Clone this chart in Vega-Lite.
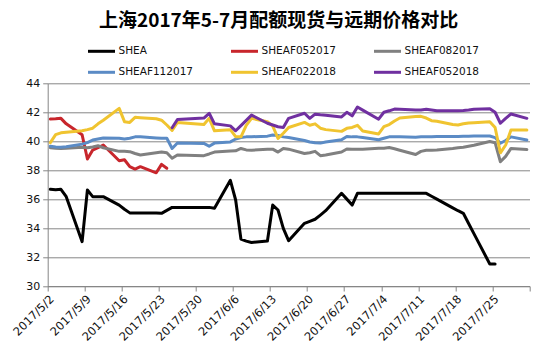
{
  "$schema": "https://vega.github.io/schema/vega-lite/v6.json",
  "width": 481.8,
  "height": 202.7,
  "autosize": "none",
  "padding": {"left": 47.7, "top": 83.3, "right": 23.5, "bottom": 72},
  "background": "white",
  "title": {"text": "上海2017年5-7月配额现货与远期价格对比", "font": "Noto Sans CJK SC", "fontSize": 19, "fontWeight": "bold", "color": "#000000", "anchor": "middle", "dx": -10, "offset": 5},
  "config": {"view": {"stroke": null}},
  "data": {"values": [
    {"s":"SHEA","date":"2017-05-02","v":36.68},{"s":"SHEA","date":"2017-05-03","v":36.65},{"s":"SHEA","date":"2017-05-04","v":36.68},{"s":"SHEA","date":"2017-05-05","v":36.17},{"s":"SHEA","date":"2017-05-08","v":33.06},{"s":"SHEA","date":"2017-05-09","v":36.63},{"s":"SHEA","date":"2017-05-10","v":36.17},{"s":"SHEA","date":"2017-05-11","v":36.17},{"s":"SHEA","date":"2017-05-12","v":36.17},{"s":"SHEA","date":"2017-05-15","v":35.59},{"s":"SHEA","date":"2017-05-16","v":35.3},{"s":"SHEA","date":"2017-05-17","v":35.05},{"s":"SHEA","date":"2017-05-18","v":35.05},{"s":"SHEA","date":"2017-05-19","v":35.05},{"s":"SHEA","date":"2017-05-22","v":35.05},{"s":"SHEA","date":"2017-05-23","v":35.02},{"s":"SHEA","date":"2017-05-24","v":35.22},{"s":"SHEA","date":"2017-05-25","v":35.43},{"s":"SHEA","date":"2017-05-26","v":35.43},{"s":"SHEA","date":"2017-05-31","v":35.43},{"s":"SHEA","date":"2017-06-01","v":35.43},{"s":"SHEA","date":"2017-06-02","v":35.37},{"s":"SHEA","date":"2017-06-05","v":37.3},{"s":"SHEA","date":"2017-06-06","v":35.94},{"s":"SHEA","date":"2017-06-07","v":33.24},{"s":"SHEA","date":"2017-06-08","v":33.1},{"s":"SHEA","date":"2017-06-09","v":33.0},{"s":"SHEA","date":"2017-06-12","v":33.11},{"s":"SHEA","date":"2017-06-13","v":35.59},{"s":"SHEA","date":"2017-06-14","v":35.25},{"s":"SHEA","date":"2017-06-15","v":33.98},{"s":"SHEA","date":"2017-06-16","v":33.13},{"s":"SHEA","date":"2017-06-19","v":34.33},{"s":"SHEA","date":"2017-06-20","v":34.47},{"s":"SHEA","date":"2017-06-21","v":34.61},{"s":"SHEA","date":"2017-06-22","v":34.9},{"s":"SHEA","date":"2017-06-23","v":35.2},{"s":"SHEA","date":"2017-06-26","v":36.4},{"s":"SHEA","date":"2017-06-27","v":36.0},{"s":"SHEA","date":"2017-06-28","v":35.59},{"s":"SHEA","date":"2017-06-29","v":36.4},{"s":"SHEA","date":"2017-06-30","v":36.4},{"s":"SHEA","date":"2017-07-03","v":36.4},{"s":"SHEA","date":"2017-07-04","v":36.4},{"s":"SHEA","date":"2017-07-05","v":36.4},{"s":"SHEA","date":"2017-07-06","v":36.4},{"s":"SHEA","date":"2017-07-07","v":36.4},{"s":"SHEA","date":"2017-07-10","v":36.4},{"s":"SHEA","date":"2017-07-11","v":36.4},{"s":"SHEA","date":"2017-07-12","v":36.4},{"s":"SHEA","date":"2017-07-13","v":36.2},{"s":"SHEA","date":"2017-07-14","v":36.0},{"s":"SHEA","date":"2017-07-17","v":35.4},{"s":"SHEA","date":"2017-07-18","v":35.2},{"s":"SHEA","date":"2017-07-19","v":35.02},{"s":"SHEA","date":"2017-07-20","v":34.32},{"s":"SHEA","date":"2017-07-21","v":33.62},{"s":"SHEA","date":"2017-07-24","v":31.52},{"s":"SHEA","date":"2017-07-25","v":31.52},
    {"s":"SHEAF052017","date":"2017-05-02","v":41.53},{"s":"SHEAF052017","date":"2017-05-03","v":41.55},{"s":"SHEAF052017","date":"2017-05-04","v":41.58},{"s":"SHEAF052017","date":"2017-05-05","v":41.2},{"s":"SHEAF052017","date":"2017-05-08","v":40.45},{"s":"SHEAF052017","date":"2017-05-09","v":38.77},{"s":"SHEAF052017","date":"2017-05-10","v":39.39},{"s":"SHEAF052017","date":"2017-05-11","v":39.55},{"s":"SHEAF052017","date":"2017-05-12","v":39.74},{"s":"SHEAF052017","date":"2017-05-15","v":38.65},{"s":"SHEAF052017","date":"2017-05-16","v":38.72},{"s":"SHEAF052017","date":"2017-05-17","v":38.24},{"s":"SHEAF052017","date":"2017-05-18","v":38.08},{"s":"SHEAF052017","date":"2017-05-19","v":38.24},{"s":"SHEAF052017","date":"2017-05-22","v":37.82},{"s":"SHEAF052017","date":"2017-05-23","v":38.4},{"s":"SHEAF052017","date":"2017-05-24","v":38.13},
    {"s":"SHEAF082017","date":"2017-05-02","v":39.55},{"s":"SHEAF082017","date":"2017-05-03","v":39.52},{"s":"SHEAF082017","date":"2017-05-04","v":39.5},{"s":"SHEAF082017","date":"2017-05-05","v":39.52},{"s":"SHEAF082017","date":"2017-05-08","v":39.58},{"s":"SHEAF082017","date":"2017-05-09","v":39.55},{"s":"SHEAF082017","date":"2017-05-10","v":39.6},{"s":"SHEAF082017","date":"2017-05-11","v":39.69},{"s":"SHEAF082017","date":"2017-05-12","v":39.55},{"s":"SHEAF082017","date":"2017-05-15","v":39.3},{"s":"SHEAF082017","date":"2017-05-16","v":39.3},{"s":"SHEAF082017","date":"2017-05-17","v":39.28},{"s":"SHEAF082017","date":"2017-05-18","v":39.15},{"s":"SHEAF082017","date":"2017-05-19","v":39.05},{"s":"SHEAF082017","date":"2017-05-22","v":39.2},{"s":"SHEAF082017","date":"2017-05-23","v":39.25},{"s":"SHEAF082017","date":"2017-05-24","v":39.2},{"s":"SHEAF082017","date":"2017-05-25","v":38.82},{"s":"SHEAF082017","date":"2017-05-26","v":39.05},{"s":"SHEAF082017","date":"2017-05-31","v":39.0},{"s":"SHEAF082017","date":"2017-06-01","v":39.12},{"s":"SHEAF082017","date":"2017-06-02","v":39.25},{"s":"SHEAF082017","date":"2017-06-05","v":39.32},{"s":"SHEAF082017","date":"2017-06-06","v":39.34},{"s":"SHEAF082017","date":"2017-06-07","v":39.5},{"s":"SHEAF082017","date":"2017-06-08","v":39.4},{"s":"SHEAF082017","date":"2017-06-09","v":39.38},{"s":"SHEAF082017","date":"2017-06-12","v":39.44},{"s":"SHEAF082017","date":"2017-06-13","v":39.45},{"s":"SHEAF082017","date":"2017-06-14","v":39.25},{"s":"SHEAF082017","date":"2017-06-15","v":39.5},{"s":"SHEAF082017","date":"2017-06-16","v":39.45},{"s":"SHEAF082017","date":"2017-06-19","v":39.15},{"s":"SHEAF082017","date":"2017-06-20","v":39.2},{"s":"SHEAF082017","date":"2017-06-21","v":39.3},{"s":"SHEAF082017","date":"2017-06-22","v":39.0},{"s":"SHEAF082017","date":"2017-06-23","v":39.05},{"s":"SHEAF082017","date":"2017-06-26","v":39.25},{"s":"SHEAF082017","date":"2017-06-27","v":39.46},{"s":"SHEAF082017","date":"2017-06-28","v":39.45},{"s":"SHEAF082017","date":"2017-06-29","v":39.45},{"s":"SHEAF082017","date":"2017-06-30","v":39.45},{"s":"SHEAF082017","date":"2017-07-03","v":39.51},{"s":"SHEAF082017","date":"2017-07-04","v":39.52},{"s":"SHEAF082017","date":"2017-07-05","v":39.56},{"s":"SHEAF082017","date":"2017-07-06","v":39.48},{"s":"SHEAF082017","date":"2017-07-07","v":39.38},{"s":"SHEAF082017","date":"2017-07-10","v":39.08},{"s":"SHEAF082017","date":"2017-07-11","v":39.3},{"s":"SHEAF082017","date":"2017-07-12","v":39.37},{"s":"SHEAF082017","date":"2017-07-13","v":39.38},{"s":"SHEAF082017","date":"2017-07-14","v":39.39},{"s":"SHEAF082017","date":"2017-07-17","v":39.5},{"s":"SHEAF082017","date":"2017-07-18","v":39.55},{"s":"SHEAF082017","date":"2017-07-19","v":39.58},{"s":"SHEAF082017","date":"2017-07-20","v":39.65},{"s":"SHEAF082017","date":"2017-07-21","v":39.72},{"s":"SHEAF082017","date":"2017-07-24","v":39.98},{"s":"SHEAF082017","date":"2017-07-25","v":39.9},{"s":"SHEAF082017","date":"2017-07-26","v":38.58},{"s":"SHEAF082017","date":"2017-07-27","v":38.95},{"s":"SHEAF082017","date":"2017-07-28","v":39.5},{"s":"SHEAF082017","date":"2017-07-31","v":39.42},
    {"s":"SHEAF112017","date":"2017-05-02","v":39.65},{"s":"SHEAF112017","date":"2017-05-03","v":39.6},{"s":"SHEAF112017","date":"2017-05-04","v":39.58},{"s":"SHEAF112017","date":"2017-05-05","v":39.62},{"s":"SHEAF112017","date":"2017-05-08","v":39.8},{"s":"SHEAF112017","date":"2017-05-09","v":39.9},{"s":"SHEAF112017","date":"2017-05-10","v":40.08},{"s":"SHEAF112017","date":"2017-05-11","v":40.15},{"s":"SHEAF112017","date":"2017-05-12","v":40.22},{"s":"SHEAF112017","date":"2017-05-15","v":40.2},{"s":"SHEAF112017","date":"2017-05-16","v":40.15},{"s":"SHEAF112017","date":"2017-05-17","v":40.2},{"s":"SHEAF112017","date":"2017-05-18","v":40.3},{"s":"SHEAF112017","date":"2017-05-19","v":40.3},{"s":"SHEAF112017","date":"2017-05-22","v":40.22},{"s":"SHEAF112017","date":"2017-05-23","v":40.2},{"s":"SHEAF112017","date":"2017-05-24","v":40.2},{"s":"SHEAF112017","date":"2017-05-25","v":39.5},{"s":"SHEAF112017","date":"2017-05-26","v":39.88},{"s":"SHEAF112017","date":"2017-05-31","v":39.85},{"s":"SHEAF112017","date":"2017-06-01","v":39.65},{"s":"SHEAF112017","date":"2017-06-02","v":39.87},{"s":"SHEAF112017","date":"2017-06-05","v":39.95},{"s":"SHEAF112017","date":"2017-06-06","v":40.15},{"s":"SHEAF112017","date":"2017-06-07","v":40.25},{"s":"SHEAF112017","date":"2017-06-08","v":40.3},{"s":"SHEAF112017","date":"2017-06-09","v":40.31},{"s":"SHEAF112017","date":"2017-06-12","v":40.35},{"s":"SHEAF112017","date":"2017-06-13","v":40.43},{"s":"SHEAF112017","date":"2017-06-14","v":40.4},{"s":"SHEAF112017","date":"2017-06-15","v":40.3},{"s":"SHEAF112017","date":"2017-06-16","v":40.25},{"s":"SHEAF112017","date":"2017-06-19","v":40.05},{"s":"SHEAF112017","date":"2017-06-20","v":39.95},{"s":"SHEAF112017","date":"2017-06-21","v":39.9},{"s":"SHEAF112017","date":"2017-06-22","v":39.87},{"s":"SHEAF112017","date":"2017-06-23","v":39.95},{"s":"SHEAF112017","date":"2017-06-26","v":40.1},{"s":"SHEAF112017","date":"2017-06-27","v":40.33},{"s":"SHEAF112017","date":"2017-06-28","v":40.3},{"s":"SHEAF112017","date":"2017-06-29","v":40.3},{"s":"SHEAF112017","date":"2017-06-30","v":40.25},{"s":"SHEAF112017","date":"2017-07-03","v":40.1},{"s":"SHEAF112017","date":"2017-07-04","v":40.2},{"s":"SHEAF112017","date":"2017-07-05","v":40.3},{"s":"SHEAF112017","date":"2017-07-06","v":40.3},{"s":"SHEAF112017","date":"2017-07-07","v":40.3},{"s":"SHEAF112017","date":"2017-07-10","v":40.28},{"s":"SHEAF112017","date":"2017-07-11","v":40.3},{"s":"SHEAF112017","date":"2017-07-12","v":40.3},{"s":"SHEAF112017","date":"2017-07-13","v":40.3},{"s":"SHEAF112017","date":"2017-07-14","v":40.32},{"s":"SHEAF112017","date":"2017-07-17","v":40.33},{"s":"SHEAF112017","date":"2017-07-18","v":40.33},{"s":"SHEAF112017","date":"2017-07-19","v":40.35},{"s":"SHEAF112017","date":"2017-07-20","v":40.35},{"s":"SHEAF112017","date":"2017-07-21","v":40.36},{"s":"SHEAF112017","date":"2017-07-24","v":40.36},{"s":"SHEAF112017","date":"2017-07-25","v":40.25},{"s":"SHEAF112017","date":"2017-07-26","v":39.86},{"s":"SHEAF112017","date":"2017-07-27","v":40.05},{"s":"SHEAF112017","date":"2017-07-28","v":40.3},{"s":"SHEAF112017","date":"2017-07-31","v":40.08},
    {"s":"SHEAF022018","date":"2017-05-02","v":39.9},{"s":"SHEAF022018","date":"2017-05-03","v":40.45},{"s":"SHEAF022018","date":"2017-05-04","v":40.58},{"s":"SHEAF022018","date":"2017-05-05","v":40.62},{"s":"SHEAF022018","date":"2017-05-08","v":40.72},{"s":"SHEAF022018","date":"2017-05-09","v":40.8},{"s":"SHEAF022018","date":"2017-05-10","v":40.9},{"s":"SHEAF022018","date":"2017-05-11","v":41.2},{"s":"SHEAF022018","date":"2017-05-12","v":41.45},{"s":"SHEAF022018","date":"2017-05-15","v":42.27},{"s":"SHEAF022018","date":"2017-05-16","v":41.35},{"s":"SHEAF022018","date":"2017-05-17","v":41.3},{"s":"SHEAF022018","date":"2017-05-18","v":41.65},{"s":"SHEAF022018","date":"2017-05-19","v":41.62},{"s":"SHEAF022018","date":"2017-05-22","v":41.55},{"s":"SHEAF022018","date":"2017-05-23","v":41.45},{"s":"SHEAF022018","date":"2017-05-24","v":41.12},{"s":"SHEAF022018","date":"2017-05-25","v":40.75},{"s":"SHEAF022018","date":"2017-05-26","v":41.3},{"s":"SHEAF022018","date":"2017-05-31","v":41.15},{"s":"SHEAF022018","date":"2017-06-01","v":41.58},{"s":"SHEAF022018","date":"2017-06-02","v":40.72},{"s":"SHEAF022018","date":"2017-06-05","v":40.8},{"s":"SHEAF022018","date":"2017-06-06","v":40.31},{"s":"SHEAF022018","date":"2017-06-07","v":40.3},{"s":"SHEAF022018","date":"2017-06-08","v":41.1},{"s":"SHEAF022018","date":"2017-06-09","v":41.58},{"s":"SHEAF022018","date":"2017-06-12","v":41.35},{"s":"SHEAF022018","date":"2017-06-13","v":41.05},{"s":"SHEAF022018","date":"2017-06-14","v":40.2},{"s":"SHEAF022018","date":"2017-06-15","v":40.55},{"s":"SHEAF022018","date":"2017-06-16","v":40.95},{"s":"SHEAF022018","date":"2017-06-19","v":41.3},{"s":"SHEAF022018","date":"2017-06-20","v":41.1},{"s":"SHEAF022018","date":"2017-06-21","v":41.2},{"s":"SHEAF022018","date":"2017-06-22","v":40.9},{"s":"SHEAF022018","date":"2017-06-23","v":40.8},{"s":"SHEAF022018","date":"2017-06-26","v":40.68},{"s":"SHEAF022018","date":"2017-06-27","v":40.89},{"s":"SHEAF022018","date":"2017-06-28","v":40.95},{"s":"SHEAF022018","date":"2017-06-29","v":41.1},{"s":"SHEAF022018","date":"2017-06-30","v":40.7},{"s":"SHEAF022018","date":"2017-07-03","v":40.5},{"s":"SHEAF022018","date":"2017-07-04","v":41.0},{"s":"SHEAF022018","date":"2017-07-05","v":41.15},{"s":"SHEAF022018","date":"2017-07-06","v":41.4},{"s":"SHEAF022018","date":"2017-07-07","v":41.6},{"s":"SHEAF022018","date":"2017-07-10","v":41.7},{"s":"SHEAF022018","date":"2017-07-11","v":41.72},{"s":"SHEAF022018","date":"2017-07-12","v":41.6},{"s":"SHEAF022018","date":"2017-07-13","v":41.42},{"s":"SHEAF022018","date":"2017-07-14","v":41.38},{"s":"SHEAF022018","date":"2017-07-17","v":41.15},{"s":"SHEAF022018","date":"2017-07-18","v":41.12},{"s":"SHEAF022018","date":"2017-07-19","v":41.2},{"s":"SHEAF022018","date":"2017-07-20","v":41.26},{"s":"SHEAF022018","date":"2017-07-21","v":41.28},{"s":"SHEAF022018","date":"2017-07-24","v":41.35},{"s":"SHEAF022018","date":"2017-07-25","v":40.95},{"s":"SHEAF022018","date":"2017-07-26","v":39.2},{"s":"SHEAF022018","date":"2017-07-27","v":39.74},{"s":"SHEAF022018","date":"2017-07-28","v":40.77},{"s":"SHEAF022018","date":"2017-07-31","v":40.77},
    {"s":"SHEAF052018","date":"2017-05-25","v":40.93},{"s":"SHEAF052018","date":"2017-05-26","v":41.5},{"s":"SHEAF052018","date":"2017-05-31","v":41.6},{"s":"SHEAF052018","date":"2017-06-01","v":41.93},{"s":"SHEAF052018","date":"2017-06-02","v":41.2},{"s":"SHEAF052018","date":"2017-06-05","v":41.06},{"s":"SHEAF052018","date":"2017-06-06","v":40.72},{"s":"SHEAF052018","date":"2017-06-07","v":41.08},{"s":"SHEAF052018","date":"2017-06-08","v":41.44},{"s":"SHEAF052018","date":"2017-06-09","v":41.8},{"s":"SHEAF052018","date":"2017-06-12","v":41.24},{"s":"SHEAF052018","date":"2017-06-13","v":41.12},{"s":"SHEAF052018","date":"2017-06-14","v":41.0},{"s":"SHEAF052018","date":"2017-06-15","v":40.95},{"s":"SHEAF052018","date":"2017-06-16","v":41.58},{"s":"SHEAF052018","date":"2017-06-19","v":41.93},{"s":"SHEAF052018","date":"2017-06-20","v":41.58},{"s":"SHEAF052018","date":"2017-06-21","v":41.87},{"s":"SHEAF052018","date":"2017-06-22","v":41.83},{"s":"SHEAF052018","date":"2017-06-23","v":41.8},{"s":"SHEAF052018","date":"2017-06-26","v":41.68},{"s":"SHEAF052018","date":"2017-06-27","v":42.0},{"s":"SHEAF052018","date":"2017-06-28","v":41.75},{"s":"SHEAF052018","date":"2017-06-29","v":42.36},{"s":"SHEAF052018","date":"2017-06-30","v":42.15},{"s":"SHEAF052018","date":"2017-07-03","v":41.52},{"s":"SHEAF052018","date":"2017-07-04","v":42.0},{"s":"SHEAF052018","date":"2017-07-05","v":42.1},{"s":"SHEAF052018","date":"2017-07-06","v":42.22},{"s":"SHEAF052018","date":"2017-07-07","v":42.2},{"s":"SHEAF052018","date":"2017-07-10","v":42.15},{"s":"SHEAF052018","date":"2017-07-11","v":42.15},{"s":"SHEAF052018","date":"2017-07-12","v":42.2},{"s":"SHEAF052018","date":"2017-07-13","v":42.15},{"s":"SHEAF052018","date":"2017-07-14","v":42.1},{"s":"SHEAF052018","date":"2017-07-17","v":42.1},{"s":"SHEAF052018","date":"2017-07-18","v":42.1},{"s":"SHEAF052018","date":"2017-07-19","v":42.12},{"s":"SHEAF052018","date":"2017-07-20","v":42.15},{"s":"SHEAF052018","date":"2017-07-21","v":42.2},{"s":"SHEAF052018","date":"2017-07-24","v":42.25},{"s":"SHEAF052018","date":"2017-07-25","v":42.0},{"s":"SHEAF052018","date":"2017-07-26","v":41.24},{"s":"SHEAF052018","date":"2017-07-27","v":41.58},{"s":"SHEAF052018","date":"2017-07-28","v":41.88},{"s":"SHEAF052018","date":"2017-07-31","v":41.58}
  ]},
  "mark": {"type": "line", "strokeWidth": 3, "strokeJoin": "round", "strokeCap": "round"},
  "encoding": {
    "x": {
      "field": "date", "type": "temporal", "timeUnit": "utcyearmonthdate", "bandPosition": 0.5,
      "scale": {"domain": [{"year": 2017, "month": 5, "date": 2, "utc": true}, {"year": 2017, "month": 8, "date": 1, "utc": true}], "nice": false},
      "axis": {
        "title": null,
        "values": [
          {"year": 2017, "month": 5, "date": 2, "utc": true}, {"year": 2017, "month": 5, "date": 9, "utc": true}, {"year": 2017, "month": 5, "date": 16, "utc": true}, {"year": 2017, "month": 5, "date": 23, "utc": true}, {"year": 2017, "month": 5, "date": 30, "utc": true}, {"year": 2017, "month": 6, "date": 6, "utc": true}, {"year": 2017, "month": 6, "date": 13, "utc": true}, {"year": 2017, "month": 6, "date": 20, "utc": true}, {"year": 2017, "month": 6, "date": 27, "utc": true}, {"year": 2017, "month": 7, "date": 4, "utc": true}, {"year": 2017, "month": 7, "date": 11, "utc": true}, {"year": 2017, "month": 7, "date": 18, "utc": true}, {"year": 2017, "month": 7, "date": 25, "utc": true}, {"year": 2017, "month": 8, "date": 1, "utc": true}
        ],
        "labelExpr": "utcmonth(datum.value) == 7 ? '' : utcFormat(datum.value, '%Y/%-m/%-d')",
        "labelAngle": -45, "labelOverlap": false, "labelBound": false, "labelFlush": false,
        "grid": false, "tickSize": 5, "tickColor": "#868686", "domainColor": "#868686",
        "labelFont": "DejaVu Sans", "labelFontSize": 11.5, "labelColor": "#111111", "labelPadding": 2
      }
    },
    "y": {
      "field": "v", "type": "quantitative",
      "scale": {"domain": [30, 44], "nice": false, "zero": false},
      "axis": {
        "title": null, "values": [30, 32, 34, 36, 38, 40, 42, 44],
        "grid": true, "gridColor": "#868686", "domainColor": "#868686", "tickColor": "#868686", "tickSize": 5,
        "labelFont": "DejaVu Sans", "labelFontSize": 11, "labelColor": "#111111", "labelPadding": 3
      }
    },
    "color": {
      "field": "s", "type": "nominal",
      "scale": {
        "domain": ["SHEA", "SHEAF112017", "SHEAF052017", "SHEAF022018", "SHEAF082017", "SHEAF052018"],
        "range": ["#000000", "#5B8BC5", "#C8262C", "#F0C430", "#808080", "#7030A0"]
      },
      "legend": {
        "title": null, "orient": "none", "legendX": 38.8, "legendY": -47, "columns": 3, "padding": 0,
        "symbolType": "stroke", "symbolSize": 729, "symbolStrokeWidth": 3,
        "labelFont": "DejaVu Sans", "labelFontSize": 10.5, "labelColor": "#111111", "labelOffset": 2,
        "columnPadding": 31, "rowPadding": -16
      }
    }
  }
}
